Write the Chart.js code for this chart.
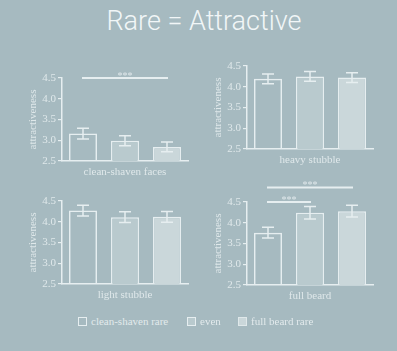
<!DOCTYPE html>
<html>
<head>
<meta charset="utf-8">
<script src="https://cdn.jsdelivr.net/npm/chart.js@4/dist/chart.umd.min.js"></script>
<style>
	html, body { margin: 0; padding: 0; }
	body { width: 397px; height: 351px; background: #a6bac0; position: relative; overflow: hidden; }
	canvas { position: absolute; }
	#title { position: absolute; left: 0; width: 408px; top: 5px; text-align: center; font-family: Roboto, 'Liberation Sans', sans-serif; font-weight: 300; font-size: 27px; color: #f1f6f7; }
	.legend-item { position: absolute; top: 315px; display: flex; align-items: center; font-family: 'Liberation Serif', 'DejaVu Serif', serif; font-size: 11px; color: #e2eaec; }
	.legend-box { width: 7px; height: 7px; border: 1.5px solid #e6eef0; margin-right: 4px; }
</style>
</head>
<body>
<div id="title">Rare = Attractive</div>
<canvas id="panel0"></canvas>
<canvas id="panel1"></canvas>
<canvas id="panel2"></canvas>
<canvas id="panel3"></canvas>
<div id="legend"></div>
<script>
	// data
	const conditions = ['clean-shaven rare', 'even', 'full beard rare'];
	const panelNames = ['clean-shaven faces', 'heavy stubble', 'light stubble', 'full beard'];
	const yTicks = [2.5, 3.0, 3.5, 4.0, 4.5];

	const cleanShavenMeans = [3.16, 2.99, 2.84];
	const cleanShavenErrors = [0.13, 0.12, 0.12];
	const heavyStubbleMeans = [4.19, 4.25, 4.22];
	const heavyStubbleErrors = [0.12, 0.12, 0.12];
	const lightStubbleMeans = [4.27, 4.11, 4.12];
	const lightStubbleErrors = [0.13, 0.13, 0.13];
	const fullBeardMeans = [3.76, 4.24, 4.28];
	const fullBeardErrors = [0.13, 0.15, 0.14];

	// [from bar, to bar, height on the y scale]
	const cleanShavenSignificance = [[0, 2, 4.5]];
	const fullBeardSignificance = [[0, 1, 4.5], [0, 2, 4.85]];

	const lineColor = '#e6eef0';
	const textColor = '#dfe8ea';
	const barFills = ['rgba(0,0,0,0)', '#b9cace', '#cad7da'];

	const panels = [
		{ means: cleanShavenMeans, errors: cleanShavenErrors, sig: cleanShavenSignificance, left: 62, top: 78, padTop: 14 },
		{ means: heavyStubbleMeans, errors: heavyStubbleErrors, sig: [], left: 247, top: 66, padTop: 10 },
		{ means: lightStubbleMeans, errors: lightStubbleErrors, sig: [], left: 62, top: 201, padTop: 10 },
		{ means: fullBeardMeans, errors: fullBeardErrors, sig: fullBeardSignificance, left: 247, top: 202, padTop: 30 }
	];

	const axisWidth = 44;
	const areaWidth = 126;
	const areaHeight = 83;
	const rightPad = 6;
	const xAxisHeight = 24;

	function makeMarksPlugin(panel) {
		return {
			id: 'marks',
			afterDatasetsDraw(chart) {
				const ctx = chart.ctx;
				const yScale = chart.scales.y;
				const meta = chart.getDatasetMeta(0);
				ctx.save();
				ctx.strokeStyle = lineColor;
				ctx.lineWidth = 1.5;
				panel.means.forEach(function(mean, i) {
					const x = meta.data[i].x;
					const hi = yScale.getPixelForValue(mean + panel.errors[i]);
					const lo = yScale.getPixelForValue(mean - panel.errors[i]);
					ctx.beginPath();
					ctx.moveTo(x, hi);
					ctx.lineTo(x, lo);
					ctx.moveTo(x - 6, hi);
					ctx.lineTo(x + 6, hi);
					ctx.moveTo(x - 6, lo);
					ctx.lineTo(x + 6, lo);
					ctx.stroke();
				});
				ctx.lineWidth = 2;
				ctx.fillStyle = textColor;
				ctx.font = '10px "Liberation Serif", serif';
				ctx.textAlign = 'center';
				ctx.textBaseline = 'alphabetic';
				panel.sig.forEach(function(pair) {
					const x1 = meta.data[pair[0]].x - 1;
					const x2 = meta.data[pair[1]].x + 1;
					const y = yScale.getPixelForValue(pair[2]);
					ctx.beginPath();
					ctx.moveTo(x1, y);
					ctx.lineTo(x2, y);
					ctx.stroke();
					ctx.fillText('***', (x1 + x2) / 2, y + 1);
				});
				ctx.restore();
			}
		};
	}

	panels.forEach(function(panel, index) {
		const canvas = document.getElementById('panel' + index);
		canvas.width = axisWidth + areaWidth + rightPad;
		canvas.height = panel.padTop + areaHeight + xAxisHeight;
		canvas.style.left = (panel.left - axisWidth) + 'px';
		canvas.style.top = (panel.top - panel.padTop) + 'px';

		new Chart(canvas, {
			type: 'bar',
			data: {
				labels: conditions,
				datasets: [{
					data: panel.means,
					backgroundColor: barFills,
					borderColor: lineColor,
					borderWidth: 1.5,
					borderSkipped: false,
					barPercentage: 0.67,
					categoryPercentage: 1
				}]
			},
			options: {
				responsive: false,
				animation: false,
				devicePixelRatio: 1,
				layout: { padding: { top: panel.padTop, right: rightPad, left: 0, bottom: 0 } },
				plugins: {
					legend: { display: false },
					tooltip: { enabled: false }
				},
				scales: {
					x: {
						grid: { display: false },
						border: { display: true, color: lineColor, width: 1.5 },
						ticks: { display: false },
						title: {
							display: true,
							text: panelNames[index],
							color: textColor,
							font: { family: '"Liberation Serif", serif', size: 11 },
							padding: { top: 0, bottom: 6 }
						},
						afterFit: function(scale) { scale.height = xAxisHeight; }
					},
					y: {
						min: yTicks[0],
						max: yTicks[yTicks.length - 1],
						afterBuildTicks: function(scale) {
							scale.ticks = yTicks.map(function(v) { return { value: v }; });
						},
						grid: { drawOnChartArea: false, drawTicks: true, tickLength: 4, color: lineColor, lineWidth: 1.2 },
						border: { display: true, color: lineColor, width: 1.5 },
						ticks: {
							color: textColor,
							padding: 2,
							font: { family: '"Liberation Serif", serif', size: 11 },
							callback: function(value) { return Number(value).toFixed(1); }
						},
						title: {
							display: true,
							text: 'attractiveness',
							color: textColor,
							font: { family: '"Liberation Serif", serif', size: 11 },
							padding: { top: 9, bottom: 0 }
						},
						afterFit: function(scale) { scale.width = axisWidth; }
					}
				}
			},
			plugins: [makeMarksPlugin(panel)]
		});
	});

	// legend
	const legendLefts = [78, 187, 238];
	const legendBorders = [lineColor, lineColor, '#dfe8ea'];
	const legend = document.getElementById('legend');
	conditions.forEach(function(name, i) {
		const item = document.createElement('div');
		item.className = 'legend-item';
		item.style.left = legendLefts[i] + 'px';
		const box = document.createElement('span');
		box.className = 'legend-box';
		box.style.background = barFills[i];
		box.style.borderColor = legendBorders[i];
		const label = document.createElement('span');
		label.textContent = name;
		item.appendChild(box);
		item.appendChild(label);
		legend.appendChild(item);
	});
</script>
</body>
</html>
